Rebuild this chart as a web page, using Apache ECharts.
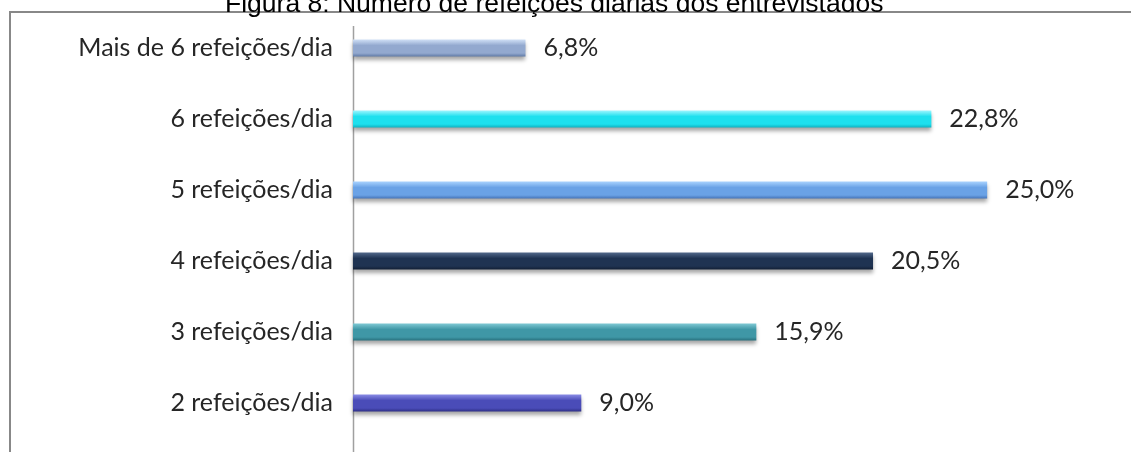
<!DOCTYPE html>
<html>
<head>
<meta charset="utf-8">
<script src="https://cdn.jsdelivr.net/npm/echarts@6/dist/echarts.min.js"></script>
<style>
  html, body { margin: 0; padding: 0; background: #fff; }
  #main { width: 1131px; height: 452px; }
</style>
</head>
<body>
<div id="main"></div>
<script>
// categories from bottom to top (category axis draws first item at the bottom)
const categories = [
  "2 refeições/dia",
  "3 refeições/dia",
  "4 refeições/dia",
  "5 refeições/dia",
  "6 refeições/dia",
  "Mais de 6 refeições/dia"
];
const percentages = [9.0, 15.9, 20.5, 25.0, 22.8, 6.8];

// top / mid / bottom shade of each bevelled bar
const barShades = [
  ["#8a8ce6", "#4a4cb8", "#2e2f86"],
  ["#7fc9d4", "#3f97a6", "#28707d"],
  ["#52688a", "#1f3352", "#121f35"],
  ["#a9d3ff", "#6aa2e6", "#4674b8"],
  ["#9ef6ff", "#1ee0ee", "#10b2c0"],
  ["#d0e0f6", "#93a9cf", "#607aa6"]
];

var myChart = echarts.init(document.getElementById("main"));

const bars = percentages.map(function (v, i) {
  const s = barShades[i];
  return {
    value: v,
    itemStyle: {
      color: new echarts.graphic.LinearGradient(0, 0, 0, 1, [
        { offset: 0, color: s[0] },
        { offset: 0.35, color: s[1] },
        { offset: 0.8, color: s[1] },
        { offset: 1, color: s[2] }
      ])
    }
  };
});

var option = {
  backgroundColor: "#fff",
  animation: false,
  title: {
    text: "Figura 8: Número de refeições diárias dos entrevistados",
    left: 220,
    top: -14,
    textStyle: {
      fontFamily: "Liberation Sans",
      fontSize: 26.5,
      fontWeight: "normal",
      color: "#000"
    }
  },
  graphic: [
    {
      type: "rect",
      shape: { x: 10, y: 12, width: 1200, height: 520 },
      style: { fill: "none", stroke: "#888", lineWidth: 2 },
      silent: true
    },
    {
      type: "line",
      shape: { x1: 353.5, y1: 26, x2: 353.5, y2: 452 },
      style: { stroke: "#a0a0a0", lineWidth: 1.5 },
      silent: true
    }
  ],
  grid: {
    left: 353,
    top: 12.5,
    width: 761,
    height: 426,
    containLabel: false
  },
  xAxis: {
    type: "value",
    min: 0,
    max: 30,
    show: false
  },
  yAxis: {
    type: "category",
    data: categories,
    axisLine: { show: false },
    axisTick: { show: false },
    axisLabel: {
      margin: 20,
      fontFamily: "Lato",
      fontSize: 25,
      color: "#262626"
    }
  },
  series: [
    {
      type: "bar",
      data: bars,
      barWidth: 17,
      itemStyle: {
        shadowColor: "rgba(0,0,0,0.35)",
        shadowBlur: 4,
        shadowOffsetY: 3
      },
      label: {
        show: true,
        position: "right",
        distance: 18,
        fontFamily: "Lato",
        fontSize: 25,
        color: "#262626",
        formatter: function (p) {
          return p.value.toFixed(1).replace(".", ",") + "%";
        }
      }
    }
  ]
};

option && myChart.setOption(option);
</script>
</body>
</html>
